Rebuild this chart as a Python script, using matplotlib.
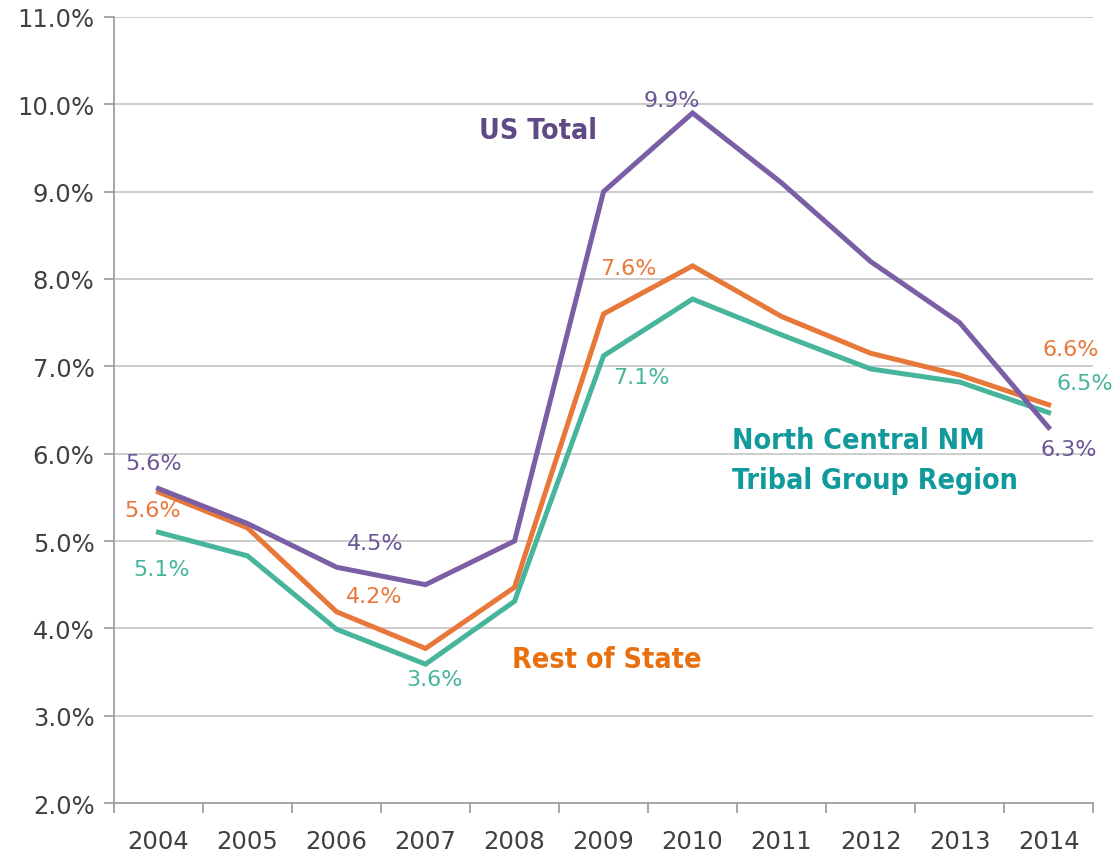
import matplotlib.pyplot as plt
from matplotlib.ticker import FuncFormatter, FixedLocator

years = ['2004', '2005', '2006', '2007', '2008', '2009', '2010', '2011', '2012', '2013', '2014']
us_total = [5.6, 5.2, 4.7, 4.5, 5.0, 9.0, 9.9, 9.1, 8.2, 7.5, 6.3]
rest_of_state = [5.56, 5.15, 4.19, 3.77, 4.47, 7.6, 8.15, 7.57, 7.15, 6.9, 6.56]
north_central = [5.1, 4.83, 3.99, 3.59, 4.31, 7.12, 7.77, 7.36, 6.97, 6.82, 6.47]

purple = '#7b5fa5'
orange = '#e8783a'
teal = '#47b59c'

fig = plt.figure(figsize=(11.12, 8.54), dpi=100)
ax = fig.add_axes([0.1025, 0.0585, 0.8805, 0.9205])

x = list(range(len(years)))
ax.plot(x, north_central, color=teal, lw=3.6, solid_joinstyle='miter', zorder=3)
ax.plot(x, rest_of_state, color=orange, lw=3.6, solid_joinstyle='miter', zorder=4)
ax.plot(x, us_total, color=purple, lw=3.6, solid_joinstyle='miter', zorder=5)

ax.set_xlim(-0.5, len(years) - 0.5)
ax.set_ylim(2.0, 11.0)
ax.set_yticks([2, 3, 4, 5, 6, 7, 8, 9, 10, 11])
ax.yaxis.set_major_formatter(FuncFormatter(lambda v, p: f'{v:.1f}%'))
ax.set_xticks(x)
ax.set_xticklabels(years)
ax.xaxis.set_minor_locator(FixedLocator([i - 0.5 for i in range(len(years) + 1)]))
ax.tick_params(axis='x', which='major', length=0, pad=19, labelsize=17.5, labelcolor='#404040')
ax.tick_params(axis='x', which='minor', length=7, width=1.3, color='#a0a0a0', direction='out')
ax.tick_params(axis='y', length=7, width=1.3, color='#a0a0a0', pad=7, labelsize=17.5, labelcolor='#404040')

ax.grid(axis='y', color='#c8c8c8', lw=1.3, zorder=0)
ax.set_axisbelow(True)
for s in ['top', 'right']:
    ax.spines[s].set_visible(False)
for s in ['left', 'bottom']:
    ax.spines[s].set_color('#a0a0a0')
    ax.spines[s].set_linewidth(1.3)

# data labels: (series, index, offset px)
lab_font = dict(fontsize=16, ha='center', va='center')
labels = [
    (us_total, 0, -5, 26, '#6a5594'),
    (rest_of_state, 0, -6, -18, orange),
    (north_central, 0, 3, -37, teal),
    (us_total, 3, -50, 42, '#6a5594'),
    (rest_of_state, 2, 38, 16, orange),
    (north_central, 3, 9, -15, teal),
    (rest_of_state, 5, 25, 46, orange),
    (us_total, 6, -21, 13, '#6a5594'),
    (north_central, 5, 38, -21, teal),
    (rest_of_state, 10, 22, 56, orange),
    (north_central, 10, 36, 30, teal),
    (us_total, 10, 20, -22, '#6a5594'),
]
for series, i, dx, dy, c in labels:
    ax.annotate(f'{series[i]:.1f}%', (i, series[i]), xytext=(dx * 0.72, dy * 0.72),
                textcoords='offset points', color=c, **lab_font)

name_font = dict(fontsize=20.5, fontweight='bold', fontstretch='condensed', family='DejaVu Sans')
ax.annotate('US Total', (6, us_total[6]), xytext=(-155 * 0.72, -17 * 0.72),
            textcoords='offset points', color='#5f4a86', ha='center', va='center', **name_font)
ax.annotate('Rest of State', (7, rest_of_state[7]), xytext=(-175 * 0.72, -342 * 0.72),
            textcoords='offset points', color='#e8700f', ha='center', va='center', **name_font)
ax.annotate('North Central NM\nTribal Group Region', (9, north_central[9]),
            xytext=(-228 * 0.72, -78 * 0.72), textcoords='offset points', color='#119a9b',
            ha='left', va='center', linespacing=1.55, **name_font)

fig.savefig('out.png', dpi=100)
